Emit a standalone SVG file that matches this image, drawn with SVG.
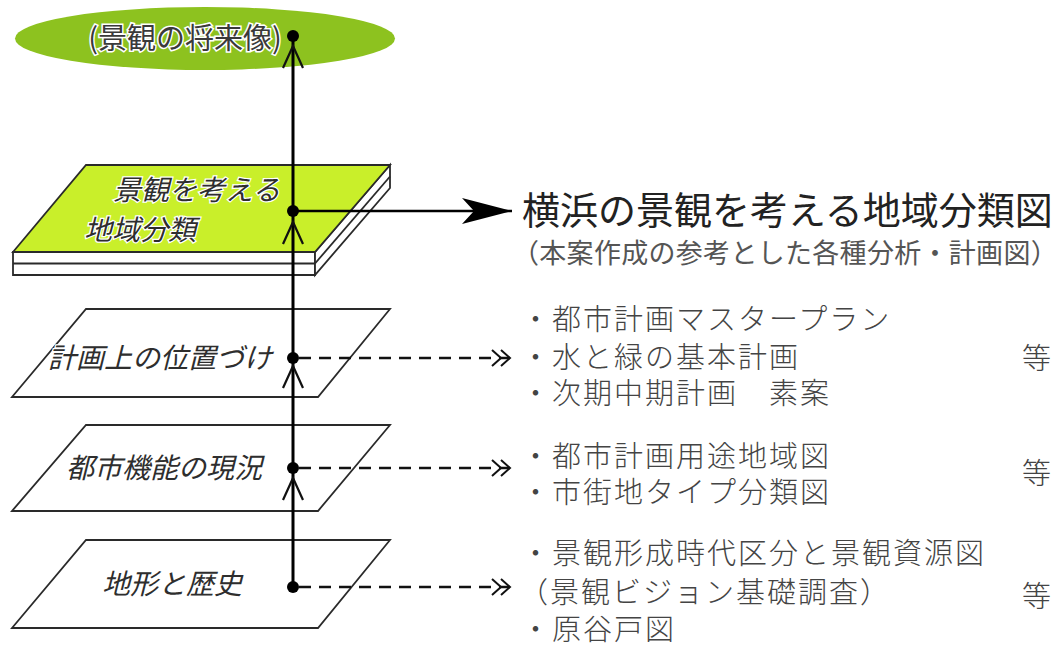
<svg xmlns="http://www.w3.org/2000/svg" xmlns:xlink="http://www.w3.org/1999/xlink" width="1061" height="646" viewBox="0 0 1061 646">
<style>
  .jp { font-family: "Noto Sans CJK JP", "Noto Sans CJK SC", sans-serif; }
  .layer-label { font-family: "Noto Sans CJK JP", sans-serif; font-style: italic; font-size: 28px; fill: #2e2e2e; stroke: #ffffff; stroke-width: 2.5; paint-order: stroke; }
  .plane { fill: #ffffff; stroke: #2a2a2a; stroke-width: 1.8; stroke-linejoin: miter; }
  .slab-face { fill: #ffffff; stroke: #2a2a2a; stroke-width: 1.8; }
  .main { stroke: #000; stroke-width: 3; fill: none; }
  .dash { stroke: #111; stroke-width: 2.5; stroke-dasharray: 12 8; fill: none; }
  .chev { stroke: #111; stroke-width: 2.2; fill: none; }
  .dot { fill: #000; }
  .title { font-family: "Noto Sans CJK JP", sans-serif; font-size: 38px; fill: #222; }
  .sub { font-family: "Noto Sans CJK JP", sans-serif; font-size: 27px; fill: #555; }
  .item { font-family: "Liberation Serif", "Noto Sans CJK JP", serif; font-size: 29px; fill: #444; font-weight: 300; letter-spacing: 2px; }
</style>
<defs>
  <path id="upchev" d="M-10,22 L0,0 L10,22" class="chev"/>
  <marker id="dblchev" markerUnits="userSpaceOnUse" markerWidth="24" markerHeight="24" viewBox="-2 -12 24 24" refX="18" refY="0" orient="auto">
    <path d="M0,-8 L9,0 L0,8 M9,-8 L18,0 L9,8" fill="none" stroke="#111" stroke-width="2"/>
  </marker>
  <marker id="bigarrow" markerUnits="userSpaceOnUse" markerWidth="54" markerHeight="30" viewBox="0 -15 54 30" refX="50" refY="0" orient="auto">
    <path d="M0,-13 L50,0 L0,13 L12,0 Z" fill="#000"/>
  </marker>
</defs>

<g id="future-vision">
  <ellipse cx="205" cy="38.5" rx="190" ry="31.5" fill="#8dc21f"/>
  <text x="185" y="49" text-anchor="middle" class="jp" font-size="29" fill="#3a3a3a" stroke="#ffffff" stroke-width="3" paint-order="stroke">(景観の将来像)</text>
</g>

<g id="regional-classification">
  <polygon class="slab-face" points="13,252 315,252 315,275 13,275"/>
  <line x1="13" y1="263.5" x2="315" y2="263.5" stroke="#2a2a2a" stroke-width="1.8"/>
  <polygon class="slab-face" points="315,252 390,165 390,188 315,275"/>
  <line x1="315" y1="263.5" x2="390" y2="176.5" stroke="#2a2a2a" stroke-width="1.8"/>
  <polygon points="86,165 390,165 315,252 13,252" fill="#c9ef2a" stroke="#2a2a2a" stroke-width="1.8"/>
  <text x="113" y="200" class="layer-label">景観を考える</text>
  <text x="84" y="240" class="layer-label">地域分類</text>
</g>

<g id="plan-positioning">
  <polygon class="plane" points="86,309 390,309 318,397 12,397"/>
  <text x="48" y="368" class="layer-label">計画上の位置づけ</text>
</g>

<g id="urban-function">
  <polygon class="plane" points="86,425 390,425 318,511 12,511"/>
  <text x="66" y="478" class="layer-label">都市機能の現況</text>
</g>

<g id="terrain-history">
  <polygon class="plane" points="86,540 390,540 318,628 12,628"/>
  <text x="102" y="594" class="layer-label">地形と歴史</text>
</g>

<g id="connectors">
  <line class="main" x1="293" y1="36" x2="293" y2="587"/>
  <use xlink:href="#upchev" x="293" y="46"/>
  <use xlink:href="#upchev" x="293" y="222"/>
  <use xlink:href="#upchev" x="293" y="366"/>
  <use xlink:href="#upchev" x="293" y="478"/>
  <line x1="293" y1="211" x2="512" y2="211" stroke="#000" stroke-width="2.5" marker-end="url(#bigarrow)"/>
  <line class="dash" x1="299" y1="358" x2="510" y2="358" marker-end="url(#dblchev)"/>
  <line class="dash" x1="299" y1="468" x2="510" y2="468" marker-end="url(#dblchev)"/>
  <line class="dash" x1="299" y1="587" x2="510" y2="587" marker-end="url(#dblchev)"/>
  <circle class="dot" cx="293" cy="36" r="6"/>
  <circle class="dot" cx="293" cy="211" r="6"/>
  <circle class="dot" cx="293" cy="358" r="6"/>
  <circle class="dot" cx="293" cy="468" r="6"/>
  <circle class="dot" cx="293" cy="587" r="6"/>
</g>

<g id="output-text">
  <text x="522" y="224" class="title">横浜の景観を考える地域分類図</text>
  <text x="512" y="263" class="sub" letter-spacing="0.3">（本案作成の参考とした各種分析・計画図）</text>
  <text class="item">
    <tspan x="521" y="330">・都市計画マスタープラン</tspan>
    <tspan x="521" y="368">・水と緑の基本計画</tspan>
    <tspan x="521" y="404">・次期中期計画　素案</tspan>
  </text>
  <text x="1022" y="369" class="item">等</text>
  <text class="item">
    <tspan x="521" y="467">・都市計画用途地域図</tspan>
    <tspan x="521" y="503">・市街地タイプ分類図</tspan>
  </text>
  <text x="1022" y="484" class="item">等</text>
  <text class="item">
    <tspan x="521" y="564">・景観形成時代区分と景観資源図</tspan>
    <tspan x="519" y="603">（景観ビジョン基礎調査）</tspan>
    <tspan x="521" y="640">・原谷戸図</tspan>
  </text>
  <text x="1022" y="607" class="item">等</text>
</g>
</svg>
